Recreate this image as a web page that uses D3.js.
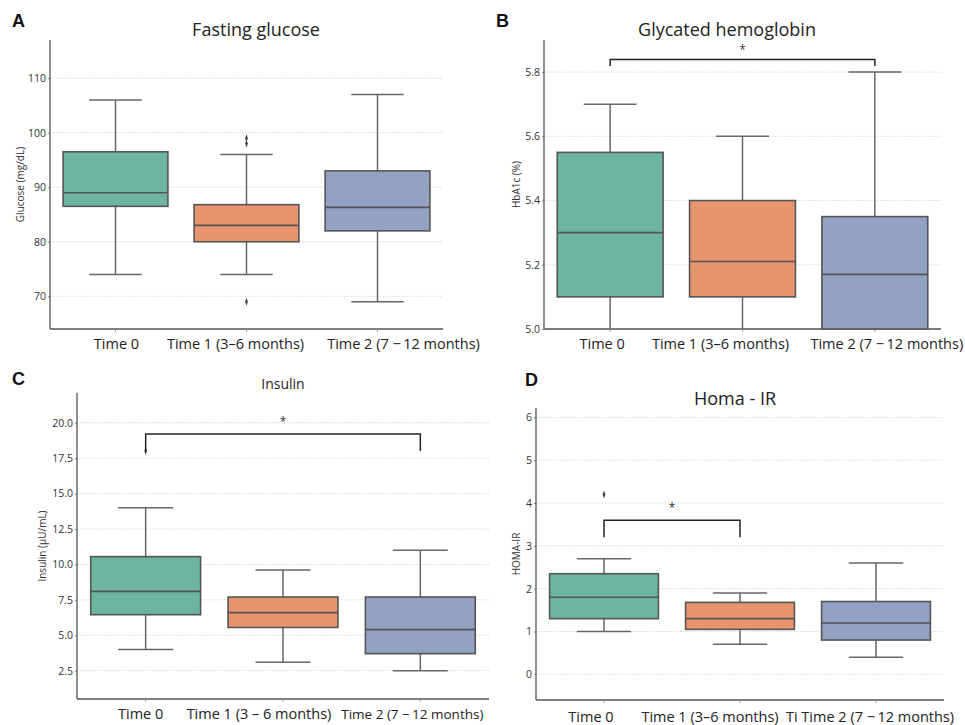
<!DOCTYPE html>
<html>
<head>
<meta charset="utf-8">
<script src="https://cdn.jsdelivr.net/npm/d3@7"></script>
<style>
  body { margin: 0; background: #fff; }
  svg { font-family: "Open Sans", sans-serif; }
</style>
</head>
<body>
<svg id="chart" width="965" height="725"></svg>
<script>
// categories / tick labels
const categories = ["Time 0", "Time 1", "Time 2"];
const labelsA = ["Time 0", "Time 1 (3\u20136 months)", "Time 2 (7 \u2212\u200912 months)"];
const labelsB = ["Time 0", "Time 1 (3\u20136 months)", "Time 2 (7 \u2212\u200912 months)"];
const labelsC = ["Time 0", "Time 1 (3 \u2013 6 months)", "Time 2 (7 \u2212\u200912 months)"];
const labelsD = ["Time 0", "Time 1 (3\u20136 months)", "Ti Time 2 (7 \u2212\u200912 months)"];

// box stats: [low whisker, q1, median, q3, high whisker]
const glucose = [[74, 86.5, 89, 96.5, 106], [74, 80, 83, 86.8, 96], [69, 82, 86.3, 93, 107]];
const glucoseOut = [[], [98, 99, 69], []];
const hba1c = [[5.0, 5.1, 5.3, 5.55, 5.7], [5.0, 5.1, 5.21, 5.4, 5.6], [5.0, 5.0, 5.17, 5.35, 5.8]];
const hba1cOut = [[], [], []];
const insulin = [[4.0, 6.45, 8.1, 10.55, 14.0], [3.1, 5.55, 6.6, 7.7, 9.6], [2.5, 3.7, 5.4, 7.7, 11.0]];
const insulinOut = [[18.0], [], []];
const homa = [[1.0, 1.3, 1.8, 2.35, 2.7], [0.7, 1.05, 1.3, 1.68, 1.9], [0.4, 0.8, 1.2, 1.7, 2.6]];
const homaOut = [[4.2], [], []];

// significance brackets: [from, to, bar value, leg end value, star value]
const sigB = [[0, 2, 5.839, 5.819, 5.872]];
const sigC = [[0, 2, 19.2, 18.0, 20.1]];
const sigD = [[0, 1, 3.6, 3.2, 3.9]];

const yTicksA = [70, 80, 90, 100, 110];
const yTicksB = [5.0, 5.2, 5.4, 5.6, 5.8];
const yTicksC = [2.5, 5.0, 7.5, 10.0, 12.5, 15.0, 17.5, 20.0];
const yTicksD = [0, 1, 2, 3, 4, 5, 6];

const colors = ["#6db5a0", "#e8946f", "#93a1c2"];

const panels = [
  { letter: "A", lx: 12, ly: 27, title: "Fasting glucose", tx: 256, ty: 36, tsize: 18,
    left: 50, right: 443, top: 40, bottom: 329, domain: [64, 117], ticks: yTicksA, fmt: "d",
    ylabel: "Glucose (mg/dL)", ylx: 24, stats: glucose, outs: glucoseOut, sig: [],
    labels: labelsA, shift: [1, -11, 26], lsize: [14.5, 14.5, 14.5], laby: 349 },
  { letter: "B", lx: 496, ly: 27, title: "Glycated hemoglobin", tx: 727, ty: 36, tsize: 18,
    left: 544, right: 941, top: 40, bottom: 329, domain: [5.0, 5.9], ticks: yTicksB, fmt: ".1f",
    ylabel: "HbA1c (%)", ylx: 520, stats: hba1c, outs: hba1cOut, sig: sigB,
    labels: labelsB, shift: [-8, -22, 12], lsize: [14.5, 14.5, 14.5], laby: 349 },
  { letter: "C", lx: 12, ly: 385, title: "Insulin", tx: 283, ty: 389, tsize: 14,
    left: 77, right: 489, top: 393, bottom: 699, domain: [0.5, 22.1], ticks: yTicksC, fmt: ".1f",
    ylabel: "Insulin (\u03bcU/mL)", ylx: 46, stats: insulin, outs: insulinOut, sig: sigC,
    labels: labelsC, shift: [-5, -24, -8], lsize: [14.5, 14.5, 13.5], laby: 719 },
  { letter: "D", lx: 525, ly: 386, title: "Homa - IR", tx: 735, ty: 405, tsize: 18,
    left: 536, right: 944, top: 408, bottom: 700, domain: [-0.6, 6.22], ticks: yTicksD, fmt: "d",
    ylabel: "HOMA-IR", ylx: 520, stats: homa, outs: homaOut, sig: sigD,
    labels: labelsD, shift: [-13, -30, -6], lsize: [14.5, 14.5, 14.5], laby: 722 }
];

const svg = d3.select("#chart");
const edge = "#555";

panels.forEach(p => {
  const g = svg.append("g");

  const x = d3.scaleBand().domain(categories).range([p.left, p.right]).padding(0);
  const y = d3.scaleLinear().domain(p.domain).range([p.bottom, p.top]);
  const bw = x.bandwidth() * 0.8;
  const cx = i => x(categories[i]) + x.bandwidth() / 2;

  // grid
  g.append("g").selectAll("line").data(p.ticks).join("line")
    .attr("x1", p.left).attr("x2", p.right)
    .attr("y1", d => y(d)).attr("y2", d => y(d))
    .attr("stroke", "#cfcfcf").attr("stroke-width", 0.8).attr("stroke-dasharray", "1.5,1.5");

  // y axis
  const yAxis = g.append("g")
    .attr("transform", `translate(${p.left},0)`)
    .call(d3.axisLeft(y).tickValues(p.ticks).tickFormat(d3.format(p.fmt)).tickSize(2).tickPadding(2));
  yAxis.select(".domain").remove();
  yAxis.selectAll(".tick line").attr("stroke", "#888");
  yAxis.selectAll("text").attr("font-size", 10.5).attr("fill", "#333").attr("font-family", "Open Sans");

  // spines
  g.append("line").attr("x1", p.left).attr("x2", p.left).attr("y1", p.top).attr("y2", p.bottom)
    .attr("stroke", edge).attr("stroke-width", 1.3);
  g.append("line").attr("x1", p.left).attr("x2", p.right).attr("y1", p.bottom).attr("y2", p.bottom)
    .attr("stroke", edge).attr("stroke-width", 1.3);

  // x ticks and labels
  categories.forEach((c, i) => {
    g.append("line").attr("x1", cx(i)).attr("x2", cx(i)).attr("y1", p.bottom).attr("y2", p.bottom + 3)
      .attr("stroke", "#888").attr("stroke-width", 0.8);
    g.append("text").attr("x", cx(i) + p.shift[i]).attr("y", p.laby)
      .attr("text-anchor", "middle").attr("font-size", p.lsize[i]).attr("fill", "#222")
      .text(p.labels[i]);
  });

  // y label
  g.append("text")
    .attr("transform", `translate(${p.ylx},${(p.top + p.bottom) / 2}) rotate(-90)`)
    .attr("text-anchor", "middle").attr("font-size", 10).attr("fill", "#333")
    .text(p.ylabel);

  // boxes
  p.stats.forEach((s, i) => {
    const [lo, q1, med, q3, hi] = s;
    const c = cx(i);
    const wl = "#666";
    g.append("line").attr("x1", c).attr("x2", c).attr("y1", y(q3)).attr("y2", y(hi))
      .attr("stroke", wl).attr("stroke-width", 1.5);
    g.append("line").attr("x1", c).attr("x2", c).attr("y1", y(q1)).attr("y2", y(lo))
      .attr("stroke", wl).attr("stroke-width", 1.5);
    [lo, hi].forEach(v => {
      if (v <= p.domain[0]) return;
      g.append("line").attr("x1", c - bw / 4).attr("x2", c + bw / 4).attr("y1", y(v)).attr("y2", y(v))
        .attr("stroke", wl).attr("stroke-width", 1.5);
    });
    g.append("rect").attr("x", c - bw / 2).attr("width", bw)
      .attr("y", y(q3)).attr("height", y(q1) - y(q3))
      .attr("fill", colors[i]).attr("stroke", edge).attr("stroke-width", 1.6);
    g.append("line").attr("x1", c - bw / 2).attr("x2", c + bw / 2).attr("y1", y(med)).attr("y2", y(med))
      .attr("stroke", edge).attr("stroke-width", 1.6);

    // outliers
    p.outs[i].forEach(v => {
      g.append("path")
        .attr("d", d3.symbol(d3.symbolDiamond, 18)())
        .attr("transform", `translate(${c},${y(v)}) scale(0.6,1)`)
        .attr("fill", "#444");
    });
  });

  // significance brackets
  p.sig.forEach(([a, b, bar, leg, star]) => {
    g.append("path")
      .attr("d", `M${cx(a)},${y(leg)}V${y(bar)}H${cx(b)}V${y(leg)}`)
      .attr("fill", "none").attr("stroke", "#222").attr("stroke-width", 1.5);
    g.append("text").attr("x", (cx(a) + cx(b)) / 2).attr("y", y(star) + 5)
      .attr("text-anchor", "middle").attr("font-size", 12).attr("fill", "#333").text("*");
  });

  // title & panel letter
  g.append("text").attr("x", p.tx).attr("y", p.ty).attr("text-anchor", "middle")
    .attr("font-size", p.tsize).attr("fill", "#222").text(p.title);
  g.append("text").attr("x", p.lx).attr("y", p.ly)
    .attr("font-family", "Liberation Sans, Arial, sans-serif").attr("font-weight", "bold")
    .attr("font-size", 18).attr("fill", "#111").text(p.letter);
});
</script>
</body>
</html>
